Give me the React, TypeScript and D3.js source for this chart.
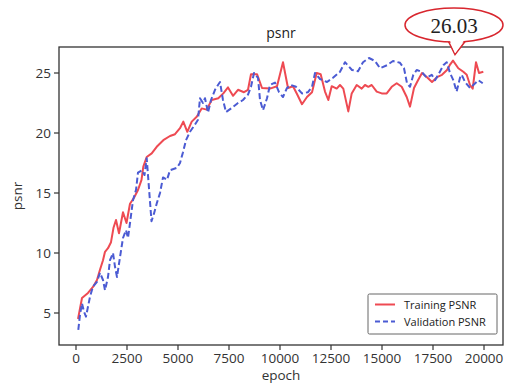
import React from "react";
import * as d3 from "d3";

const trainEpoch = [100, 294, 588, 833, 1029, 1176, 1324, 1422, 1569, 1716, 1838, 1961, 2108, 2304, 2476, 2647, 2843, 3039, 3211, 3300, 3466, 3711, 3956, 4280, 4608, 4853, 5098, 5260, 5456, 5672, 5917, 6162, 6407, 6652, 6976, 7221, 7451, 7696, 7941, 8235, 8431, 8578, 8873, 9118, 9510, 9853, 10147, 10392, 10637, 10833, 11078, 11323, 11569, 11798, 11994, 12206, 12368, 12534, 12779, 12941, 13103, 13348, 13515, 13760, 14005, 14167, 14329, 14495, 14740, 14986, 15231, 15476, 15721, 15966, 16211, 16373, 16569, 16765, 16961, 17206, 17451, 17696, 17941, 18186, 18318, 18480, 18741, 18986, 19152, 19314, 19446, 19608, 19755, 19966];
const trainPsnr = [4.5, 6.25, 6.67, 7.17, 7.75, 8.6, 9.4, 10.1, 10.4, 10.9, 12.1, 12.75, 11.65, 13.4, 12.5, 14.1, 14.6, 15.25, 16.1, 17.2, 18.0, 18.3, 18.85, 19.4, 19.75, 19.9, 20.4, 20.95, 20.1, 20.95, 21.35, 22.05, 21.95, 22.75, 22.9, 23.3, 23.8, 23.1, 23.6, 23.4, 23.6, 24.9, 24.9, 23.75, 23.7, 23.9, 25.9, 23.75, 23.9, 23.25, 22.4, 23.0, 23.4, 25.0, 24.9, 23.45, 22.75, 23.9, 23.7, 24.0, 23.7, 21.8, 23.3, 24.0, 23.7, 24.0, 23.85, 24.0, 23.45, 23.3, 23.3, 23.85, 24.15, 23.85, 23.0, 22.2, 23.75, 24.4, 25.0, 24.65, 24.25, 24.65, 24.85, 25.25, 25.65, 26.03, 25.4, 25.1, 24.85, 24.0, 23.7, 25.9, 25.0, 25.1];

const valEpoch = [113, 196, 294, 392, 490, 686, 833, 1029, 1176, 1324, 1422, 1569, 1667, 1814, 1912, 2010, 2157, 2304, 2451, 2549, 2647, 2794, 2941, 3039, 3235, 3358, 3466, 3701, 3824, 3971, 4118, 4265, 4461, 4608, 4951, 5098, 5245, 5392, 5588, 5833, 5980, 6078, 6225, 6324, 6471, 6618, 6814, 6961, 7059, 7206, 7353, 7647, 7941, 8186, 8431, 8578, 8725, 8922, 9020, 9167, 9363, 9510, 9755, 9951, 10147, 10343, 10539, 10784, 11078, 11372, 11569, 11716, 11961, 12304, 12598, 12941, 13186, 13529, 13824, 14069, 14363, 14657, 14902, 15245, 15539, 15882, 16078, 16225, 16373, 16535, 16701, 16946, 17192, 17437, 17598, 17760, 18005, 18171, 18333, 18495, 18658, 18824, 18907, 19069, 19314, 19476, 19721, 19937];
const valPsnr = [3.6, 4.85, 5.8, 5.1, 4.7, 6.35, 7.2, 7.6, 8.35, 7.75, 6.9, 8.0, 9.4, 10.0, 8.85, 8.0, 9.65, 11.25, 11.9, 11.25, 12.5, 14.4, 15.25, 16.7, 16.9, 16.5, 17.9, 12.65, 13.3, 14.2, 15.0, 16.3, 16.1, 16.9, 17.1, 17.5, 18.4, 19.4, 20.1, 20.7, 21.1, 22.9, 22.5, 22.9, 21.7, 22.75, 23.6, 24.0, 24.25, 22.75, 21.75, 22.1, 22.5, 22.75, 23.2, 23.85, 25.0, 24.6, 22.75, 21.9, 22.9, 24.0, 24.2, 23.4, 23.0, 23.75, 24.0, 23.85, 23.3, 23.4, 23.85, 25.0, 24.5, 24.25, 24.6, 25.1, 25.9, 25.25, 25.15, 25.9, 26.25, 26.0, 25.4, 25.65, 26.0, 25.85, 25.4, 24.15, 23.85, 24.85, 25.25, 25.1, 24.6, 24.85, 24.4, 24.85, 25.65, 25.9, 25.0, 24.4, 23.45, 24.6, 24.85, 24.25, 23.75, 24.0, 24.4, 24.15];

const xTicks = [0, 2500, 5000, 7500, 10000, 12500, 15000, 17500, 20000];
const yTicks = [5, 10, 15, 20, 25];
const seriesNames = ["Training PSNR", "Validation PSNR"];
const annotationLabel = "26.03";
const titleText = "psnr";
const xLabel = "epoch";
const yLabel = "psnr";

const W = 507;
const H = 390;
const L = 59, R = 503, T = 47, B = 345;
const RED = "#ee4a52";
const BLUE = "#4b5bd3";
const AX = "#333333";
const FONT = "'Open Sans', sans-serif";

export default function App() {
  const x = d3.scaleLinear().domain([-833, 20931]).range([L, R]);
  const y = d3.scaleLinear().domain([2.333, 27.167]).range([B, T]);
  const trainPts: [number, number][] = trainEpoch.map((e, i) => [e, trainPsnr[i]]);
  const valPts: [number, number][] = valEpoch.map((e, i) => [e, valPsnr[i]]);
  const line = d3
    .line<[number, number]>()
    .x((d) => x(d[0]))
    .y((d) => y(d[1]));

  // annotation anchored at max of training
  const maxIdx = d3.maxIndex(trainPsnr);
  const ax = x(trainEpoch[maxIdx]) + 2;
  const ay = y(trainPsnr[maxIdx]) - 6;
  const ecx = 454, ecy = 25, erx = 49, ery = 17;

  const lgX = 368, lgY = 294, lgW = 129, lgH = 40;

  return (
    <svg
      width={W}
      height={H}
      style={{ position: "absolute", left: 0, top: 0, background: "#fff" }}
      fontFamily={FONT}
    >
      <rect x={0} y={0} width={W} height={H} fill="#fff" />
      <text x={(L + R) / 2} y={38} textAnchor="middle" fontSize={14} fill="#222">
        {titleText}
      </text>
      <g clipPath="url(#plotclip)">
        <path d={line(trainPts) || ""} fill="none" stroke={RED} strokeWidth={2} strokeLinejoin="round" />
        <path d={line(valPts) || ""} fill="none" stroke={BLUE} strokeWidth={2} strokeDasharray="6,3" strokeLinejoin="round" />
      </g>
      <defs>
        <clipPath id="plotclip">
          <rect x={L} y={T} width={R - L} height={B - T} />
        </clipPath>
      </defs>
      <rect x={L} y={T} width={R - L} height={B - T} fill="none" stroke={AX} strokeWidth={1.3} />
      {xTicks.map((t) => (
        <g key={"x" + t}>
          <line x1={x(t)} x2={x(t)} y1={B} y2={B + 5} stroke={AX} strokeWidth={1.2} />
          <text x={x(t)} y={363} textAnchor="middle" fontSize={13.5} fill="#333">
            {t}
          </text>
        </g>
      ))}
      {yTicks.map((t) => (
        <g key={"y" + t}>
          <line x1={L - 5} x2={L} y1={y(t)} y2={y(t)} stroke={AX} strokeWidth={1.2} />
          <text x={L - 8} y={y(t) + 5} textAnchor="end" fontSize={13.5} fill="#333">
            {t}
          </text>
        </g>
      ))}
      <text x={(L + R) / 2} y={380} textAnchor="middle" fontSize={13.5} fill="#333">
        {xLabel}
      </text>
      <text
        transform={`translate(22, ${(T + B) / 2}) rotate(-90)`}
        textAnchor="middle"
        fontSize={13.5}
        fill="#333"
      >
        {yLabel}
      </text>
      <g>
        <rect x={lgX} y={lgY} width={lgW} height={lgH} fill="#fff" stroke="#666" strokeWidth={1} rx={1.5} />
        <line x1={lgX + 7} x2={lgX + 27} y1={lgY + 10.5} y2={lgY + 10.5} stroke={RED} strokeWidth={2} />
        <line x1={lgX + 7} x2={lgX + 27} y1={lgY + 27.5} y2={lgY + 27.5} stroke={BLUE} strokeWidth={2} strokeDasharray="5,3" />
        <text x={lgX + 36} y={lgY + 14.5} fontSize={11} fill="#222">
          {seriesNames[0]}
        </text>
        <text x={lgX + 36} y={lgY + 31.5} fontSize={11} fill="#222">
          {seriesNames[1]}
        </text>
      </g>
      <g>
        <path
          d={`M ${ecx - 6} ${ecy + ery - 1.5} L ${ax} ${ay} L ${ecx + 13} ${ecy + ery - 3}`}
          fill="#fff"
          stroke="#d8262e"
          strokeWidth={1.5}
        />
        <ellipse cx={ecx} cy={ecy} rx={erx} ry={ery} fill="#fff" stroke="#d8262e" strokeWidth={1.5} />
        <path
          d={`M ${ecx - 4.5} ${ecy + ery - 2.5} L ${ax} ${ay - 1.5} L ${ecx + 11.5} ${ecy + ery - 3.5} Z`}
          fill="#fff"
          stroke="none"
        />
        <text
          x={ecx}
          y={ecy + 7.5}
          textAnchor="middle"
          fontSize={21}
          fontFamily="'Liberation Serif', 'Times New Roman', serif"
          fill="#222"
        >
          {annotationLabel}
        </text>
      </g>
    </svg>
  );
}
